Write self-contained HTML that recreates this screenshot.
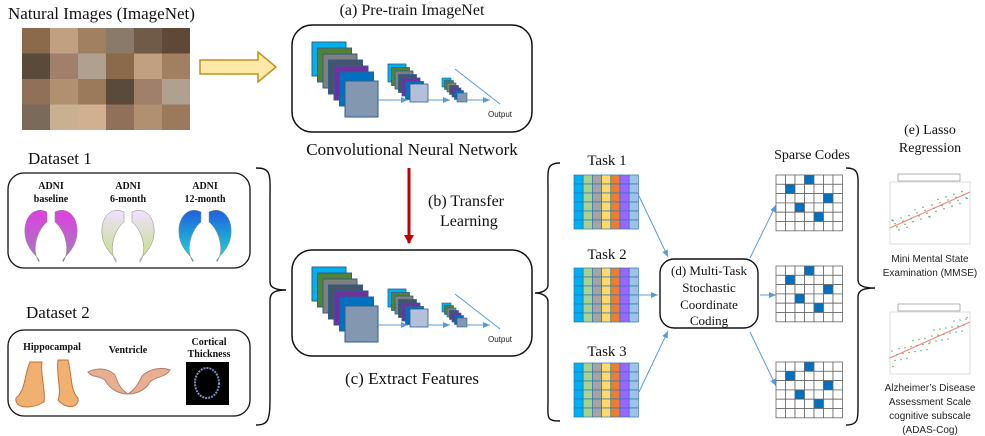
<!DOCTYPE html>
<html><head><meta charset="utf-8">
<style>
body{margin:0;background:#fff;}
svg{display:block;}
.t{font-family:"Liberation Serif",serif;fill:#111;}
.s{font-family:"Liberation Sans",sans-serif;fill:#222;}
</style></head><body>
<svg id="g" width="985" height="436" viewBox="0 0 985 436" xmlns="http://www.w3.org/2000/svg">
<defs>
<marker id="ar" markerWidth="8" markerHeight="8" refX="7" refY="4" orient="auto"><path d="M0,1 L7,4 L0,7 z" fill="#5b9bd5"/></marker>
<marker id="ra" markerUnits="userSpaceOnUse" markerWidth="10" markerHeight="10" refX="8" refY="5" orient="auto"><path d="M0,0 L9,5 L0,10 z" fill="#c00000"/></marker>
<linearGradient id="h1" x1="0" y1="0" x2="0" y2="1"><stop offset="0" stop-color="#e040e0"/><stop offset="1" stop-color="#a080c0"/></linearGradient>
<linearGradient id="h2" x1="0" y1="0" x2="0" y2="1"><stop offset="0" stop-color="#f0e0ff"/><stop offset="1" stop-color="#c0e080"/></linearGradient>
<linearGradient id="h3" x1="0" y1="0" x2="0" y2="1"><stop offset="0" stop-color="#2060e0"/><stop offset="1" stop-color="#20e0d0"/></linearGradient>
</defs>
<text class="t" x="8" y="19" font-size="17">Natural Images (ImageNet)</text>
<g id="photos"></g>
<path d="M200,60 L258,60 L258,52 L276,67 L258,82 L258,74 L200,74 z" fill="#fde9a8" stroke="#c09020" stroke-width="1.5"/>
<text class="t" x="412" y="15" font-size="16" text-anchor="middle">(a) Pre-train ImageNet</text>
<rect x="292" y="25" width="240" height="107" rx="20" fill="#fff" stroke="#111" stroke-width="1.5"/>
<g id="cnn1"></g>
<text class="t" x="412" y="155" font-size="17" text-anchor="middle">Convolutional Neural Network</text>
<line x1="409" y1="168" x2="409" y2="243" stroke="#c00000" stroke-width="3" marker-end="url(#ra)"/>
<text class="t" x="428" y="206" font-size="16">(b) Transfer</text>
<text class="t" x="440" y="226" font-size="16">Learning</text>
<rect x="292" y="250" width="240" height="106" rx="20" fill="#fff" stroke="#111" stroke-width="1.5"/>
<g id="cnn2"></g>
<text class="t" x="412" y="384" font-size="17" text-anchor="middle">(c) Extract Features</text>

<text class="t" x="28" y="164" font-size="17">Dataset 1</text>
<rect x="8" y="173" width="242" height="95" rx="16" fill="none" stroke="#111" stroke-width="1.3"/>
<g font-family="Liberation Serif,serif" font-size="10" font-weight="bold" text-anchor="middle" fill="#111">
<text x="51" y="189">ADNI</text><text x="51" y="202">baseline</text>
<text x="128" y="189">ADNI</text><text x="128" y="202">6-month</text>
<text x="205" y="189">ADNI</text><text x="205" y="202">12-month</text>
</g>
<g id="hip"></g>
<text class="t" x="26" y="318" font-size="17">Dataset 2</text>
<rect x="8" y="330" width="242" height="86" rx="16" fill="none" stroke="#111" stroke-width="1.3"/>
<g font-family="Liberation Serif,serif" font-size="10" font-weight="bold" text-anchor="middle" fill="#111">
<text x="52" y="350">Hippocampal</text>
<text x="128" y="353">Ventricle</text>
<text x="209" y="345">Cortical</text><text x="209" y="357">Thickness</text>
</g>
<path d="M30,362 C24,375 26,390 16,398 C14,408 30,410 44,402 C46,390 40,375 42,362 z" fill="#f0b070" stroke="#c07040"/>
<path d="M58,360 C56,375 62,390 58,400 C66,410 80,408 78,398 C70,390 72,375 68,360 z" fill="#f0b070" stroke="#c07040"/>
<path d="M88,372 C100,366 110,370 115,375 C118,385 122,390 128,394 C120,394 110,390 105,380 C98,375 92,378 88,372 z" fill="#e8b090" stroke="#b08070"/>
<path d="M170,370 C160,366 148,370 142,376 C138,385 134,390 128,394 C136,394 146,390 150,382 C156,376 165,378 170,370 z" fill="#e8b090" stroke="#b08070"/>
<rect x="186" y="362" width="43" height="43" fill="#000"/>
<ellipse cx="207" cy="383" rx="12" ry="15" fill="none" stroke="#8090c0" stroke-width="2" stroke-dasharray="2,1"/>
<path d="M256,168 C272,168 270,175 270,200 L270,282 C270,288 276,290 286,290 C276,290 270,292 270,300 L270,400 C270,420 268,425 256,425" fill="none" stroke="#111" stroke-width="1.4"/>
<path d="M560,163 C546,163 548,170 548,190 L548,285 C548,290 542,293 535,293 C542,293 548,296 548,302 L548,400 C548,418 546,421 560,421" fill="none" stroke="#111" stroke-width="1.4"/>
<text class="t" x="607" y="165" font-size="15" text-anchor="middle">Task 1</text>
<text class="t" x="607" y="259" font-size="15" text-anchor="middle">Task 2</text>
<text class="t" x="607" y="356" font-size="15" text-anchor="middle">Task 3</text>
<g id="tasks"></g>
<g stroke="#5b9bd5" stroke-width="1" fill="none">
<line x1="639" y1="196" x2="668" y2="257" marker-end="url(#ar)"/>
<line x1="639" y1="295" x2="658" y2="295" marker-end="url(#ar)"/>
<line x1="639" y1="392" x2="668" y2="331" marker-end="url(#ar)"/>
<line x1="750" y1="258" x2="776" y2="205" marker-end="url(#ar)"/>
<line x1="760" y1="295" x2="776" y2="295" marker-end="url(#ar)"/>
<line x1="750" y1="332" x2="776" y2="386" marker-end="url(#ar)"/>
</g>
<rect x="660" y="259" width="98" height="69" rx="14" fill="#fff" stroke="#111" stroke-width="1.4"/>
<g class="t" font-size="13" text-anchor="middle">
<text x="709" y="275">(d) Multi-Task</text><text x="709" y="292">Stochastic</text>
<text x="709" y="309">Coordinate</text><text x="709" y="325">Coding</text>
</g>
<text class="t" x="812" y="159" font-size="14" text-anchor="middle">Sparse Codes</text>
<g id="sparse"></g>
<path d="M846,168 C860,168 858,175 858,195 L858,280 C858,286 864,288 875,288 C864,288 858,290 858,297 L858,405 C858,420 858,425 846,425" fill="none" stroke="#111" stroke-width="1.4"/>
<text class="t" x="930" y="134" font-size="14" text-anchor="middle">(e) Lasso</text>
<text class="t" x="930" y="152" font-size="14" text-anchor="middle">Regression</text>
<g id="plots"></g>
<g class="s" font-size="10" text-anchor="middle">
<text x="930" y="262">Mini Mental State</text><text x="930" y="276">Examination (MMSE)</text>
<text x="930" y="391">Alzheimer’s Disease</text><text x="930" y="405">Assessment Scale</text>
<text x="930" y="419">cognitive subscale</text><text x="930" y="433">(ADAS-Cog)</text>
</g>
</svg>
<script>
const NS="http://www.w3.org/2000/svg";
function el(p,t,a){const e=document.createElementNS(NS,t);for(const k in a)e.setAttribute(k,a[k]);document.getElementById(p).appendChild(e);return e;}
const pc=["#8a6a4a","#b09070","#6a5a4a","#c0a080","#9a7a5a","#7a6a5a","#a08060","#5a4a3a","#c8b090","#8a7a6a","#a0806a","#d0b090","#705a48","#b0a090","#907058","#604838"];
for(let r=0;r<4;r++)for(let c=0;c<6;c++)el("photos","rect",{x:22+c*28,y:28+r*25.5,width:28,height:25.5,fill:pc[(r*7+c*3)%pc.length]});
const cols=["#00b0f0","#548235","#7f7f7f","#44546a","#7030a0","#0070c0"];
function cnn(g,oy){
 for(let i=0;i<6;i++)el(g,"rect",{x:312+i*5.5,y:oy+42+i*6,width:34,height:34,fill:cols[i],stroke:"#2e5f8a","stroke-width":1});
 el(g,"rect",{x:345,y:oy+81,width:33,height:36,fill:"#8497b0",stroke:"#2e5f8a","stroke-width":1});
 for(let i=0;i<6;i++)el(g,"rect",{x:388+i*3.5,y:oy+64+i*3.5,width:18,height:18,fill:cols[i],stroke:"#2e5f8a","stroke-width":0.8});
 el(g,"rect",{x:410,y:oy+84,width:18,height:18,fill:"#b4c0d8",stroke:"#2e5f8a","stroke-width":0.8});
 for(let i=0;i<6;i++)el(g,"rect",{x:442+i*2.5,y:oy+78+i*2.5,width:9,height:9,fill:cols[i],stroke:"#2e5f8a","stroke-width":0.6});
 el(g,"rect",{x:457,y:oy+93,width:10,height:9,fill:"#8497b0",stroke:"#2e5f8a","stroke-width":0.6});
 el(g,"line",{x1:378,y1:oy+100,x2:408,y2:oy+100,stroke:"#5b9bd5","marker-end":"url(#ar)"});
 el(g,"line",{x1:428,y1:oy+100,x2:450,y2:oy+100,stroke:"#5b9bd5","marker-end":"url(#ar)"});
 el(g,"line",{x1:467,y1:oy+100,x2:490,y2:oy+100,stroke:"#5b9bd5","marker-end":"url(#ar)"});
 el(g,"line",{x1:455,y1:oy+69,x2:500,y2:oy+104,stroke:"#5b9bd5"});
 const t=el(g,"text",{x:488,y:oy+117,"font-size":8,"font-family":"Liberation Sans,sans-serif",fill:"#222"});t.textContent="Output";
}
cnn("cnn1",0);cnn("cnn2",225);
[["url(#h1)",51],["url(#h2)",128],["url(#h3)",205]].forEach(([f,cx])=>{
 el("hip","path",{d:`M${cx-4},212 C${cx-18},205 ${cx-30},220 ${cx-25},240 C${cx-20},255 ${cx-10},258 ${cx-12},262 C${cx-20},250 ${cx-14},230 ${cx-4},222 z`,fill:f,stroke:"#888","stroke-width":0.5});
 el("hip","path",{d:`M${cx+4},212 C${cx+18},205 ${cx+30},220 ${cx+25},240 C${cx+20},255 ${cx+10},258 ${cx+12},262 C${cx+20},250 ${cx+14},230 ${cx+4},222 z`,fill:f,stroke:"#888","stroke-width":0.5});
});
const tc=["#00b0f0","#a9d18e","#a5a5a5","#ffd966","#ed7d31","#9966ff","#9dc3e6"];
[175,268,363].forEach(y=>{for(let c=0;c<7;c++)for(let r=0;r<6;r++)el("tasks","rect",{x:574+c*9.2,y:y+r*9,width:9.2,height:9,fill:tc[c],stroke:"#2e75b6","stroke-width":0.7});});
const pat=[[0,3],[1,1],[2,5],[3,2],[4,4]];
[175,266,362].forEach(y=>{for(let c=0;c<7;c++)for(let r=0;r<6;r++){const on=pat.some(p=>p[0]==r&&p[1]==c);el("sparse","rect",{x:776+c*9.5,y:y+r*9.3,width:9.5,height:9.3,fill:on?"#0070c0":"#fff",stroke:"#666","stroke-width":0.8});}});
function plot(y0,pts){
 el("plots","rect",{x:890,y:y0+12,width:80,height:62,fill:"#fff",stroke:"#bbb","stroke-width":0.5});
 el("plots","rect",{x:898,y:y0+4,width:62,height:7,fill:"#fff",stroke:"#666","stroke-width":0.5});
 el("plots","line",{x1:890,y1:y0+58,x2:970,y2:y0+22,stroke:"#f08080","stroke-width":1});
 pts.forEach(p=>el("plots","circle",{cx:p[0],cy:y0+p[1],r:0.8,fill:"#6a6"}));
}
let a=[],b=[];for(let i=0;i<40;i++){const x=892+(i*37)%76;a.push([x,58-(x-890)*0.45+((i*13)%15-7)]);b.push([x,60-(x-890)*0.5+((i*11)%17-8)]);}
plot(170,a);plot(300,b);
</script>
</body></html>
